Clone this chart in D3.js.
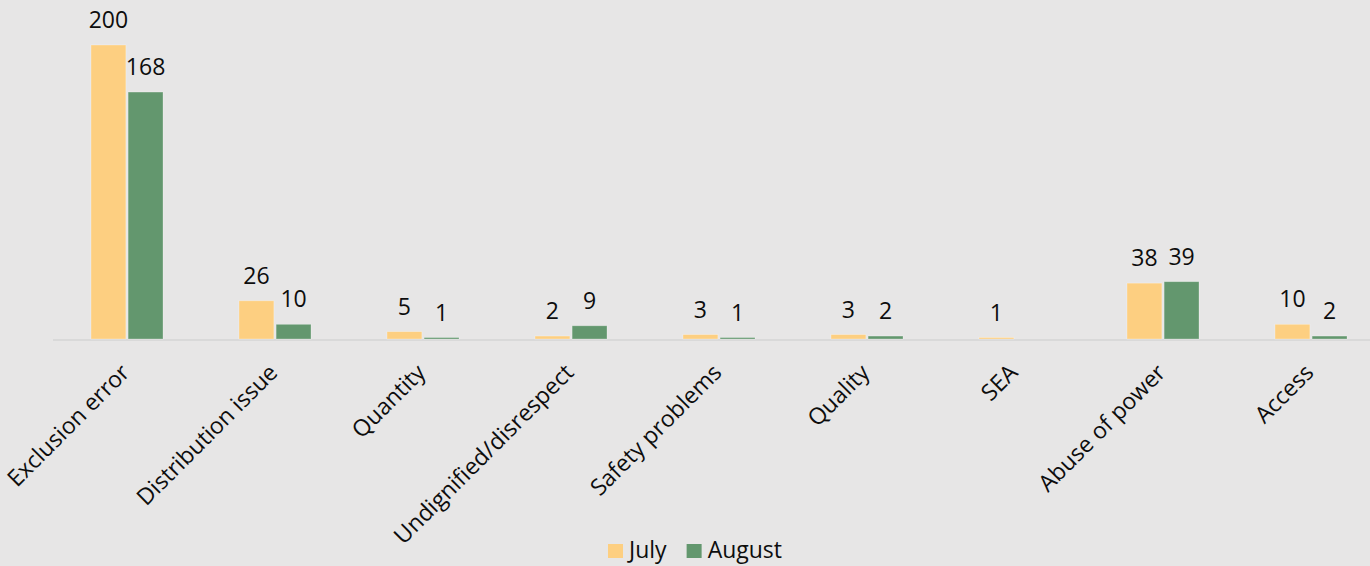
<!DOCTYPE html>
<html>
<head>
<meta charset="utf-8">
<script src="https://cdn.jsdelivr.net/npm/d3@7"></script>
<style>
  html, body { margin: 0; padding: 0; background: #e7e6e6; }
  svg { display: block; }
  text { font-family: "Open Sans", "Noto Sans", sans-serif; fill: #0d0d0d; }
</style>
</head>
<body>
<svg id="chart" width="1370" height="566"></svg>
<script>
// Complaint categories and monthly counts
const categories = ["Exclusion error", "Distribution issue", "Quantity", "Undignified/disrespect",
  "Safety problems", "Quality", "SEA", "Abuse of power", "Access"];
const july   = [200, 26, 5, 2, 3, 3, 1, 38, 10];
const august = [168, 10, 1, 9, 1, 2, null, 39, 2];
const seriesNames = ["July", "August"];
const seriesColors = ["#fdcf81", "#63976e"];

const W = 1370, H = 566;
const plot = { left: 53, right: 1385, top: 45, bottom: 339 };

const svg = d3.select("#chart");
svg.append("rect").attr("width", W).attr("height", H).attr("fill", "#e7e6e6");

const x0 = d3.scaleBand().domain(categories).range([plot.left, plot.right]).padding(0);
const groupW = 72;
const x1 = d3.scaleBand().domain(seriesNames)
  .range([(x0.bandwidth() - groupW) / 2, (x0.bandwidth() + groupW) / 2])
  .paddingInner(0.06);
const y = d3.scaleLinear().domain([0, 200]).range([plot.bottom, plot.top]);

const rows = categories.map((c, i) => ({ cat: c, values: [july[i], august[i]] }));

// baseline
svg.append("line")
  .attr("x1", plot.left).attr("x2", plot.right)
  .attr("y1", plot.bottom + 1).attr("y2", plot.bottom + 1)
  .attr("stroke", "#d9d9d9").attr("stroke-width", 2);

const groups = svg.append("g").selectAll("g").data(rows).join("g")
  .attr("transform", d => `translate(${x0(d.cat)},0)`);

const cells = groups.selectAll("g.cell")
  .data(d => d.values.map((v, k) => ({ key: seriesNames[k], value: v, k })).filter(e => e.value != null))
  .join("g").attr("class", "cell");

cells.append("rect")
  .attr("x", d => x1(d.key))
  .attr("width", x1.bandwidth())
  .attr("y", d => y(d.value))
  .attr("height", d => y(0) - y(d.value))
  .attr("fill", d => seriesColors[d.k])
  .attr("stroke", "rgba(255,255,255,0.35)")
  .attr("stroke-width", 0.8);

cells.append("text")
  .attr("x", d => x1(d.key) + x1.bandwidth() / 2)
  .attr("y", d => y(d.value) - 17)
  .attr("text-anchor", "middle")
  .style("font-size", "23px")
  .text(d => d.value);

// rotated category labels
const xAxis = svg.append("g");
categories.forEach(c => {
  const cx = x0(c) + x0.bandwidth() / 2;
  xAxis.append("text")
    .attr("transform", `translate(${cx + 4},${plot.bottom + 35}) rotate(-45)`)
    .attr("text-anchor", "end")
    .style("font-size", "23px")
    .text(c);
});

// legend
const legend = svg.append("g");
let lx = 608;
seriesNames.forEach((name, k) => {
  legend.append("rect").attr("x", lx).attr("y", 544).attr("width", 15).attr("height", 14)
    .attr("fill", seriesColors[k]);
  const t = legend.append("text").attr("x", lx + 21).attr("y", 558)
    .style("font-size", "23px").text(name);
  lx += 21 + t.node().getComputedTextLength() + 20;
});
</script>
</body>
</html>
